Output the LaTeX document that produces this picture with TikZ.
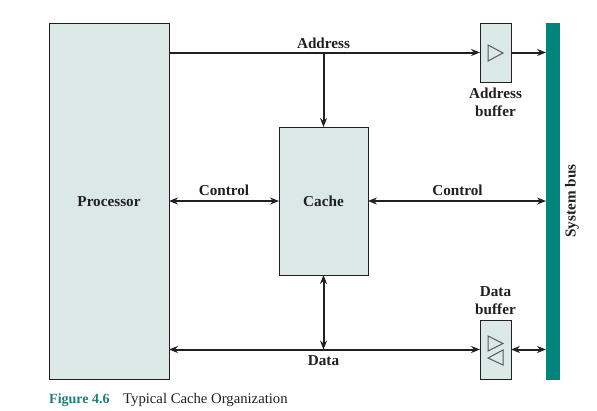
\documentclass[tikz,border=0pt]{standalone}
\usepackage{fontspec}
\setmainfont{Liberation Serif}
\usetikzlibrary{arrows.meta}
\definecolor{boxfill}{HTML}{DAE8E6}
\definecolor{busteal}{HTML}{00857A}
\definecolor{inkdark}{HTML}{231F20}
\definecolor{capteal}{HTML}{1F7F7A}
\definecolor{triline}{HTML}{5A5A5A}
\tikzset{
  blockbox/.style={draw=inkdark,fill=boxfill,line width=1pt,minimum width=#1,inner sep=0pt,outer sep=0pt},
  label text/.style={font=\fontsize{15.2}{15}\selectfont\bfseries,text=inkdark,inner sep=0pt,align=center},
  capt/.style={font=\fontsize{14.7}{15}\selectfont,inner sep=0pt,anchor=base west},
  wire/.style={draw=inkdark,line width=2pt,-{Stealth[length=9pt,width=7pt,inset=3pt]}},
  biwire/.style={draw=inkdark,line width=2pt,{Stealth[length=9pt,width=7pt,inset=3pt]}-{Stealth[length=9pt,width=7pt,inset=3pt]}},
  tri/.style={draw=triline,line width=1pt,fill=boxfill,line join=miter}
}
\begin{document}
\begin{tikzpicture}[x=1pt,y=-1pt]
\useasboundingbox (0,0) rectangle (597,410);
\node[blockbox=120pt,minimum height=356pt] (proc) at (109,201) {};
\node[blockbox=89pt,minimum height=148pt] (cache) at (323.5,201) {};
\node[blockbox=31pt,minimum height=59pt] (abuf) at (495.5,52.5) {};
\node[blockbox=31pt,minimum height=59pt] (dbuf) at (495.5,349.5) {};
\node[draw=none,fill=busteal,minimum width=14pt,minimum height=357pt,inner sep=0pt,outer sep=0pt] (bus) at (553,201.5) {};
\coordinate (tap) at (cache.north |- abuf.center);
% connectors
\draw[wire] (proc.east |- abuf.center) -- (abuf.west);
\draw[wire] (tap) -- (cache.north);
\draw[wire] (abuf.east) -- (bus.west |- abuf.center);
\draw[biwire] (proc.east |- cache.center) -- (cache.west);
\draw[biwire] (cache.east) -- (bus.west |- cache.center);
\draw[biwire] (proc.east |- dbuf.center) -- (dbuf.west);
\draw[biwire] (cache.south) -- (cache.south |- dbuf.center);
\draw[biwire] (dbuf.east) -- (bus.west |- dbuf.center);
% buffer triangles
\draw[tri] (488,45) -- (503,53) -- (488,61) -- cycle;
\draw[tri] (488,336) -- (503,343.5) -- (488,351) -- cycle;
\draw[tri] (503,350) -- (488,358) -- (503,365) -- cycle;
% labels
\node[label text] (lproc) at (109,201.5) {Processor};
\node[label text] (lcache) at (323.5,201.5) {Cache};
\node[label text] (laddr) at (323.5,43) {Address};
\node[label text] (lctl1) at (224,190) {Control};
\node[label text] (lctl2) at (457.5,190) {Control};
\node[label text] (ldata) at (323.5,361) {Data};
\node[label text] (labuf) at (495.5,102.5) {Address\\[3.5pt]buffer};
\node[label text] (ldbuf) at (495.5,300.5) {Data\\[3.5pt]buffer};
\node[label text,rotate=90] (lbus) at (572,201) {System bus};
\node[capt,text=capteal,font=\fontsize{14}{15}\selectfont\bfseries] (fig) at (49,403) {Figure 4.6};
\node[capt,text=inkdark] (cap) at (123,403) {Typical Cache Organization};
\end{tikzpicture}
\end{document}
